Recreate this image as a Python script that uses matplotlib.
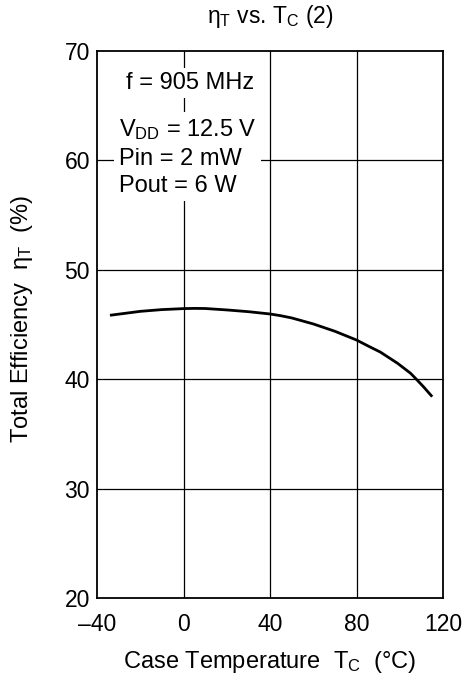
import numpy as np
import matplotlib
matplotlib.use('Agg')
import matplotlib.pyplot as plt

plt.rcParams['font.family'] = ['Liberation Sans', 'DejaVu Sans']
plt.rcParams['mathtext.fontset'] = 'custom'
plt.rcParams['mathtext.rm'] = 'Liberation Sans'
plt.rcParams['mathtext.it'] = 'Liberation Sans'
plt.rcParams['mathtext.bf'] = 'Liberation Sans'

# curve
temp_c = [-34, -20, -10, 0, 5, 10, 20, 30, 40, 45, 50, 60, 70, 80, 86, 91, 99, 105, 108, 111, 115]
eff_t = [45.84, 46.2, 46.36, 46.45, 46.47, 46.46, 46.33, 46.17, 45.96, 45.8, 45.6, 45.05, 44.38, 43.58,
         42.97, 42.48, 41.45, 40.54, 39.93, 39.3, 38.4]

x_ticks = [-40, 0, 40, 80, 120]
y_ticks = [20, 30, 40, 50, 60, 70]

fig = plt.figure(figsize=(4.65, 6.76), dpi=100)
ax = fig.add_axes([0.2086, 0.1154, 0.7441, 0.8092])

# grid
for xv in x_ticks[1:-1]:
    ax.axvline(xv, color='black', lw=0.9, zorder=1)
for yv in y_ticks[1:-1]:
    ax.axhline(yv, color='black', lw=0.9, zorder=1)

ax.plot(temp_c, eff_t, color='black', lw=2.0, zorder=3, solid_capstyle='butt')

ax.set_xlim(-40, 120)
ax.set_ylim(20, 70)
ax.set_xticks(x_ticks)
ax.set_yticks(y_ticks)
ax.set_xticklabels(['\u201340', '0', '40', '80', '120'])
ax.tick_params(length=0, labelsize=16.5, pad=5)
ax.tick_params(axis='x', pad=11)
for s in ax.spines.values():
    s.set_linewidth(1.3)

ax.text(3, 67.05, 'f = 905 MHz', fontsize=17, ha='center', va='center', zorder=4,
        bbox=dict(facecolor='white', edgecolor='none', pad=3))
ax.text(-30, 60.3, '$\\mathrm{V_{DD}}$ = 12.5 V\nPin = 2 mW\nPout = 6 W', fontsize=17,
        ha='left', va='center', linespacing=1.33, zorder=4,
        bbox=dict(facecolor='white', edgecolor='none', pad=3))

ax.set_title('$\\mathrm{\\eta_T}$ vs. $\\mathrm{T_C}$ (2)', fontsize=16.5, pad=20)
ax.set_xlabel('Case Temperature  $\\mathrm{T_C}$  (\u00b0C)', fontsize=17, labelpad=9.5)
ax.set_ylabel('Total Efficiency  $\\mathrm{\\eta_T}$  (%)', fontsize=17)
ax.yaxis.set_label_coords(-0.178, 0.51)

fig.savefig('out.png', dpi=100)
